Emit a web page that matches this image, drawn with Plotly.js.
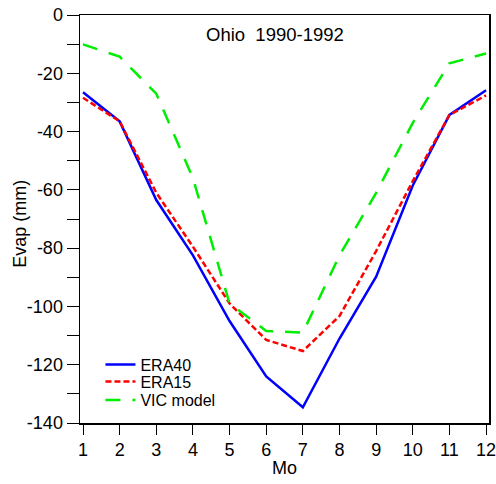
<!DOCTYPE html>
<html>
<head>
<meta charset="utf-8">
<script src="https://cdn.plot.ly/plotly-3.0.1.min.js"></script>
<style>html,body{margin:0;padding:0;background:#fff;}</style>
</head>
<body>
<div id="chart" style="width:496px;height:484px;"></div>
<script>
const months = [1,2,3,4,5,6,7,8,9,10,11,12];
const era40 = [-26.5,-36.5,-63.5,-82.5,-105,-124,-134.6,-111,-89.8,-58.5,-34.3,-25.8];
const era15 = [-28.4,-36.5,-61,-79.5,-99,-111.5,-115.3,-103.3,-81,-57,-34.3,-27.6];
const vic = [-10.1,-14.3,-27,-56,-99,-108.4,-109,-82.5,-61,-37,-16.6,-13.2];
const yTickVals = [0,-10,-20,-30,-40,-50,-60,-70,-80,-90,-100,-110,-120,-130,-140];
const yTickText = ['0','','-20','','-40','','-60','','-80','','-100','','-120','','-140'];
const xTickText = ['1','2','3','4','5','6','7','8','9','10','11','12'];

const font = 'Liberation Sans, Arial, sans-serif';
const traces = [
  {x: months, y: era40, name: 'ERA40', mode: 'lines', legend: 'legend', line: {color: '#0000ff', width: 2.5, dash: 'solid'}},
  {x: months, y: era15, name: 'ERA15', mode: 'lines', legend: 'legend2', line: {color: '#ff0000', width: 2.5, dash: '6px,3px'}},
  {x: months, y: vic, name: 'VIC model', mode: 'lines', legend: 'legend3', line: {color: '#00ee00', width: 2.5, dash: '15px,12px'}}
];
const legFont = {family: font, size: 16, color: '#000'};
function leg(y) {
  return {x: 0.05, y: y, xanchor: 'left', yanchor: 'middle', bgcolor: 'rgba(0,0,0,0)', font: legFont};
}
const layout = {
  width: 496, height: 484,
  margin: {l: 80, r: 7, t: 15, b: 61},
  paper_bgcolor: '#fff', plot_bgcolor: '#fff',
  font: {family: font, size: 18, color: '#000'},
  showlegend: true,
  legend: leg(0.1434),
  legend2: leg(0.1017),
  legend3: leg(0.0564),
  xaxis: {range: [0.918, 12.08], tickvals: months, ticktext: xTickText, ticks: 'outside', ticklen: 10,
          tickwidth: 1, tickcolor: '#000', showgrid: false, zeroline: false,
          showline: true, linecolor: '#000', linewidth: 1.5, mirror: true,
          ticklabeloverflow: 'allow', tickfont: {family: font, size: 18},
          title: {text: 'Mo', font: {family: font, size: 18}, standoff: 2}},
  yaxis: {range: [-140, 0], tickvals: yTickVals, ticktext: yTickText, ticks: 'outside', ticklen: 12,
          tickwidth: 1, tickcolor: '#000', showgrid: false, zeroline: false,
          showline: true, linecolor: '#000', linewidth: 1.5, mirror: true,
          ticklabeloverflow: 'allow', tickfont: {family: font, size: 18}},
  annotations: [
    {text: 'Ohio  1990-1992', xref: 'paper', yref: 'paper', x: 0.477, y: 0.982,
     xanchor: 'center', yanchor: 'top', showarrow: false, font: {family: font, size: 18.5, color: '#000'}},
    {text: 'Evap (mm)', xref: 'paper', yref: 'paper', x: -0.147, y: 0.488, textangle: -90,
     xanchor: 'center', yanchor: 'middle', showarrow: false, font: {family: font, size: 18, color: '#000'}}
  ]
};
Plotly.newPlot('chart', traces, layout, {displayModeBar: false, staticPlot: true});
</script>
</body>
</html>
